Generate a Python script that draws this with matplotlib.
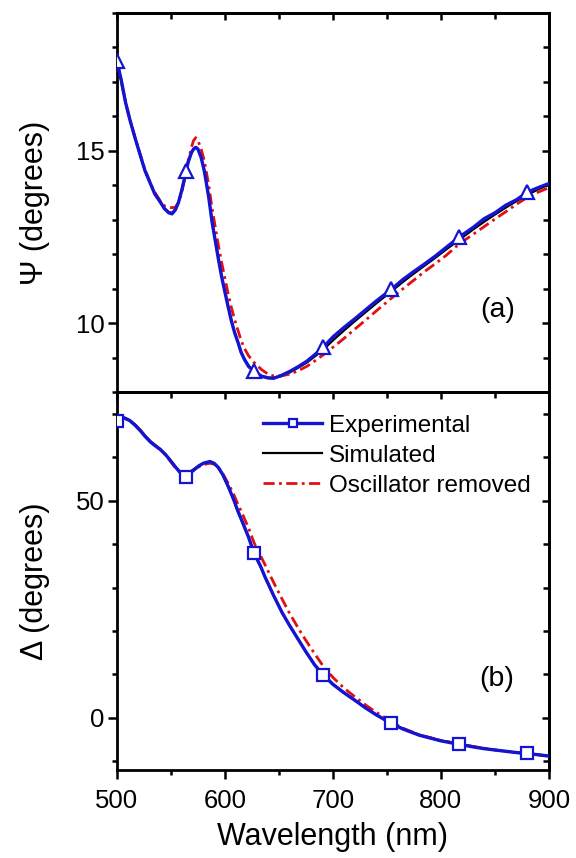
import numpy as np
import matplotlib
matplotlib.use("Agg")
import matplotlib.pyplot as plt
from matplotlib.ticker import MultipleLocator, NullFormatter

plt.rcParams['font.family'] = ['Liberation Sans', 'DejaVu Sans']

# ---- panel (a): Psi ----
wl_a = [500, 504, 508, 512, 517, 522, 526, 531, 535, 540, 544, 548, 551, 554, 557,
        560, 564, 566, 569, 571, 573, 575, 578, 581, 585, 588, 591, 594, 597, 600,
        603, 606, 609, 612, 615, 618, 622, 627, 634, 640, 645, 652, 660, 668, 676,
        683, 691, 700, 710, 720, 730, 740, 754, 765, 775, 785, 795, 805, 817, 830,
        840, 850, 860, 870, 880, 890, 900]
psi_exp = [17.6, 17.05, 16.4, 15.9, 15.35, 14.83, 14.42, 14.05, 13.75, 13.52, 13.32, 13.2, 13.17, 13.28, 13.5,
           13.85, 14.4, 14.68, 14.95, 15.05, 15.1, 15.05, 14.8, 14.4, 13.65, 12.95, 12.4, 11.85, 11.34, 10.9,
           10.47, 10.06, 9.72, 9.45, 9.15, 8.95, 8.74, 8.6, 8.46, 8.41, 8.4, 8.48, 8.6, 8.74, 8.9,
           9.08, 9.3, 9.6, 9.87, 10.12, 10.38, 10.64, 10.98, 11.27, 11.5, 11.72, 11.95, 12.2, 12.5, 12.78,
           13.03, 13.2, 13.42, 13.58, 13.8, 13.93, 14.05]
psi_sim = [17.6, 17.05, 16.4, 15.9, 15.35, 14.83, 14.42, 14.05, 13.76, 13.52, 13.33, 13.22, 13.2, 13.3, 13.52,
           13.86, 14.38, 14.66, 14.93, 15.04, 15.1, 15.05, 14.82, 14.42, 13.68, 12.98, 12.42, 11.87, 11.36, 10.92,
           10.49, 10.08, 9.74, 9.46, 9.17, 8.97, 8.76, 8.6, 8.47, 8.42, 8.41, 8.46, 8.57, 8.71, 8.86,
           9.03, 9.23, 9.5, 9.78, 10.05, 10.31, 10.57, 10.92, 11.2, 11.44, 11.67, 11.9, 12.14, 12.42, 12.72,
           12.94, 13.15, 13.35, 13.54, 13.72, 13.88, 14.02]
psi_osc = [17.6, 17.0, 16.4, 15.9, 15.35, 14.85, 14.45, 14.05, 13.8, 13.55, 13.4, 13.36, 13.35, 13.36, 13.5,
           13.8, 14.35, 14.7, 15.1, 15.3, 15.38, 15.3, 15.05, 14.7, 14.0, 13.35, 12.8, 12.25, 11.75, 11.3,
           10.85, 10.45, 10.1, 9.8, 9.5, 9.27, 9.05, 8.86, 8.65, 8.52, 8.47, 8.47, 8.52, 8.62, 8.75,
           8.9, 9.08, 9.3, 9.55, 9.82, 10.08, 10.35, 10.72, 11.0, 11.25, 11.5, 11.73, 11.97, 12.3, 12.58,
           12.8, 13.02, 13.23, 13.45, 13.65, 13.8, 13.93]

# ---- panel (b): Delta ----
wl_b = [500, 503, 507, 512, 517, 522, 526, 531, 535, 540, 545, 550, 554, 558, 564,
        567, 572, 576, 580, 586, 590, 594, 598, 603, 608, 612, 617, 622, 627, 633,
        637, 645, 653, 660, 668, 675, 683, 691, 700, 710, 720, 730, 740, 754, 765,
        780, 800, 817, 830, 840, 850, 860, 870, 880, 890, 900]
delta_exp = [68.3, 68.7, 69.0, 68.4, 67.3, 66.0, 64.8, 63.5, 62.7, 61.8, 60.6, 59.1, 57.8, 56.6, 55.5,
             56.2, 57.2, 58.0, 58.6, 59.0, 58.6, 57.6, 56.0, 53.3, 50.3, 47.6, 44.6, 41.5, 37.9, 34.9,
             32.5, 28.2, 24.2, 21.2, 18.0, 15.2, 12.2, 9.9, 7.7, 5.8, 4.1, 2.3, 0.7, -1.3, -2.6,
             -4.0, -5.3, -6.1, -6.7, -7.1, -7.4, -7.7, -8.0, -8.2, -8.5, -8.8]
delta_sim = [68.5, 68.9, 69.1, 68.5, 67.5, 66.2, 65.0, 63.7, 62.9, 61.9, 60.6, 59.0, 57.8, 56.8, 56.0,
             56.5, 57.4, 58.1, 58.6, 58.9, 58.5, 57.5, 55.9, 53.2, 50.2, 47.5, 44.5, 41.4, 37.8, 34.8,
             32.5, 28.2, 24.2, 21.2, 18.0, 15.2, 12.3, 10.0, 7.8, 5.9, 4.1, 2.4, 0.8, -1.2, -2.5,
             -3.9, -5.2, -6.0, -6.6, -7.0, -7.4, -7.7, -8.0, -8.2, -8.5, -8.8]
delta_osc = [68.4, 68.8, 69.0, 68.4, 67.4, 66.1, 64.9, 63.6, 62.8, 61.8, 60.5, 58.9, 57.6, 56.6, 56.0,
             56.4, 57.2, 57.8, 58.3, 58.6, 58.4, 57.6, 56.2, 54.0, 51.5, 49.2, 46.5, 43.6, 40.3, 37.3,
             35.3, 31.2, 27.3, 24.0, 20.6, 17.8, 14.8, 11.9, 9.3, 6.9, 4.9, 3.0, 1.3, -0.9, -2.4,
             -3.9, -5.2, -6.0, -6.6, -7.0, -7.4, -7.7, -8.0, -8.2, -8.5, -8.8]

mark_wl = [500, 564, 627, 691, 754, 817, 880]
labels = ['Experimental', 'Simulated', 'Oscillator removed']

blue = '#1414d2'
red = '#e01010'

fig = plt.figure(figsize=(5.76, 8.58), dpi=100)
ax1 = fig.add_axes([0.203, 0.543, 0.750, 0.442])
ax2 = fig.add_axes([0.203, 0.1026, 0.750, 0.4405])

def style(ax, ymaj, ymin, xlabels):
    ax.set_xlim(500, 900)
    ax.xaxis.set_major_locator(MultipleLocator(100))
    ax.xaxis.set_minor_locator(MultipleLocator(50))
    ax.yaxis.set_major_locator(MultipleLocator(ymaj))
    ax.yaxis.set_minor_locator(MultipleLocator(ymin))
    for s in ax.spines.values():
        s.set_linewidth(2.0)
    ax.tick_params(which='both', direction='out', width=1.8, labelsize=18.5,
                   top=False, right=False, labelbottom=xlabels)
    ax.tick_params(which='major', length=6.5)
    ax.tick_params(which='minor', length=3.5)
    ax.tick_params(axis='x', which='major', pad=7)
    ax.tick_params(axis='y', which='major', pad=2.5)
    # inward ticks on top and right
    sx = ax.secondary_xaxis('top')
    sy = ax.secondary_yaxis('right')
    for sa in (sx, sy):
        sa.spines[:].set_linewidth(2.0)
        sa.tick_params(which='both', direction='in', width=1.8,
                       labeltop=False, labelright=False)
        sa.tick_params(which='major', length=5)
        sa.tick_params(which='minor', length=4)
    sx.xaxis.set_major_locator(MultipleLocator(100))
    sx.xaxis.set_minor_locator(MultipleLocator(50))
    sy.yaxis.set_major_locator(MultipleLocator(ymaj))
    sy.yaxis.set_minor_locator(MultipleLocator(ymin))
    sx.xaxis.set_major_formatter(NullFormatter())
    sy.yaxis.set_major_formatter(NullFormatter())

# panel (a)
ma = [wl_a.index(w) for w in mark_wl]
ax1.plot(wl_a, psi_sim, color='black', lw=1.6, zorder=2)
ax1.plot(wl_a, psi_osc, color=red, lw=2.0, dashes=[4, 1.6, 1, 1.6], zorder=3)
ax1.plot(wl_a, psi_exp, color=blue, lw=2.4, marker='^', markersize=10,
         markerfacecolor='white', markeredgecolor=blue, markeredgewidth=1.6,
         markevery=ma, zorder=4)
ax1.set_ylim(8, 19)
style(ax1, 5, 1, False)
ax1.set_ylabel('Ψ (degrees)', fontsize=22)
ax1.yaxis.set_label_coords(-0.155, 0.5)
ax1.text(0.882, 0.216, '(a)', transform=ax1.transAxes, fontsize=20.5,
         ha='center', va='center')

# panel (b)
mb = [wl_b.index(w) for w in mark_wl]
l2, = ax2.plot(wl_b, delta_sim, color='black', lw=1.6, zorder=2)
l3, = ax2.plot(wl_b, delta_osc, color=red, lw=2.0, dashes=[4, 1.6, 1, 1.6], zorder=3)
l1, = ax2.plot(wl_b, delta_exp, color=blue, lw=2.4, marker='s', markersize=8,
               markerfacecolor='white', markeredgecolor=blue, markeredgewidth=1.6,
               markevery=mb, zorder=4)
ax2.set_ylim(-12, 75)
style(ax2, 50, 10, True)
ax2.set_ylabel('Δ (degrees)', fontsize=22)
ax2.yaxis.set_label_coords(-0.155, 0.5)
ax2.set_xlabel('Wavelength (nm)', fontsize=22, labelpad=7)
ax2.text(0.88, 0.241, '(b)', transform=ax2.transAxes, fontsize=20.5,
         ha='center', va='center')

ax2.legend([l1, l2, l3], labels, loc='upper left', bbox_to_anchor=(0.338, 0.94),
           frameon=False, fontsize=17.5, handlelength=2.45, handletextpad=0.25,
           labelspacing=0.33, borderpad=0, borderaxespad=0, numpoints=1,
           markerscale=0.75)

fig.savefig('out.png', dpi=100)
